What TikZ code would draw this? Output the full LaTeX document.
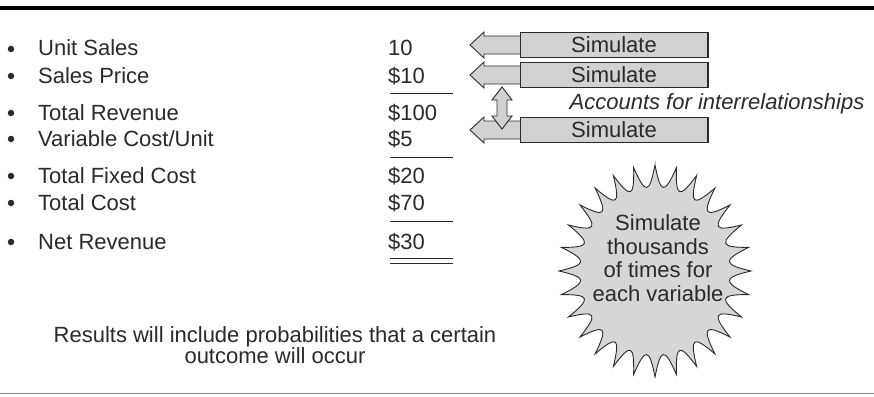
\documentclass[tikz,border=0pt]{standalone}
\usepackage{fontspec}
\setmainfont{Liberation Sans}
\definecolor{ink}{HTML}{2A2A2A}
\definecolor{boxfill}{HTML}{D2D2D2}
\definecolor{burstfill}{HTML}{D6D6D6}
\definecolor{rulegray}{HTML}{8A8A8A}
\begin{document}
\begin{tikzpicture}[x=1pt,y=-1pt,
  txt/.style={font=\fontsize{22}{26}\selectfont, text=ink, inner sep=0pt},
  lbl/.style={txt, anchor=base west},
  bul/.style={circle, fill=ink, inner sep=0pt, minimum size=6.5pt},
  simbox/.style={txt, draw=ink, line width=0.9pt, fill=boxfill, minimum width=188pt, minimum height=25pt},
  headpath/.style={draw=ink, line width=0.9pt, fill=boxfill, line join=miter},
  sumline/.style={draw=ink, line width=1pt}
]
\useasboundingbox (0,0) rectangle (874,396);
% rules
\draw[line width=3.5pt, black] (0,8) -- (874,8);
\draw[line width=1.8pt, rulegray] (0,393.5) -- (874,393.5);

% rows
\foreach \y/\name/\lab/\v in {48/r1/Unit Sales/10, 75/r2/Sales Price/\$10, 112/r3/Total Revenue/\$100, 138/r4/Variable Cost\slash Unit/\$5, 175/r5/Total Fixed Cost/\$20, 202/r6/Total Cost/\$70, 241/r7/Net Revenue/\$30}{
  \node[bul] (b\name) at (11,\y+1) {};
  \node[lbl] (l\name) at (38,\y+8) {\lab};
  \node[lbl] (v\name) at (388,\y+8) {\v};
}
% summation lines
\draw[sumline] (390,93) -- (453,93);
\draw[sumline] (390,157) -- (453,157);
\draw[sumline] (390,221) -- (453,221);
\draw[sumline] (390,258) -- (453,258);
\draw[sumline] (390,263) -- (453,263);

% simulate arrows
\foreach \y/\n in {45/s1, 75/s2, 130/s3}{
  \draw[headpath] (470,\y) -- (484,\y-13) -- (484,\y-9) -- (523,\y-9) -- (523,\y+9) -- (484,\y+9) -- (484,\y+13) -- cycle;
  \node[simbox] (\n) at (614,\y) {Simulate};
  \draw[ink, line width=2.4pt] ([xshift=-0.6pt]\n.north east) -- ([xshift=-0.6pt]\n.south east);
}

% double arrow
\draw[headpath] (502,87) -- (512,100) -- (507,100) -- (507,116) -- (512,116) -- (502,129) -- (492,116) -- (497,116) -- (497,100) -- (492,100) -- cycle;

\node[txt, font=\fontsize{22}{26}\selectfont\itshape, anchor=center] (acc) at (717,104) {Accounts for interrelationships};

% starburst
\def\cx{655}\def\cy{271}
\def\rxo{96}\def\ryo{106}
\def\rxi{68}\def\ryi{77}
\def\nsp{28}
\pgfmathsetmacro{\stp}{360/\nsp}
\path[draw=ink, line width=0.9pt, fill=burstfill]
  ({\cx+\rxo*cos(90)},{\cy-\ryo*sin(90)})
  \foreach \k in {0,...,27}{
    .. controls ({\cx+\rxi*cos(90+\k*\stp+0.38*\stp)},{\cy-\ryi*sin(90+\k*\stp+0.38*\stp)})
       and ({\cx+\rxi*cos(90+\k*\stp+0.62*\stp)},{\cy-\ryi*sin(90+\k*\stp+0.62*\stp)})
    .. ({\cx+\rxo*cos(90+(\k+1)*\stp)},{\cy-\ryo*sin(90+(\k+1)*\stp)})
  } -- cycle;
\node[txt, align=center, font=\fontsize{22}{23.7}\selectfont] (burst) at (658,258) {Simulate\\thousands\\of times for\\each variable};

% results
\node[txt, align=center, font=\fontsize{22}{21.5}\selectfont] (res) at (275,345) {Results will include probabilities that a certain\\outcome will occur};
\end{tikzpicture}
\end{document}
